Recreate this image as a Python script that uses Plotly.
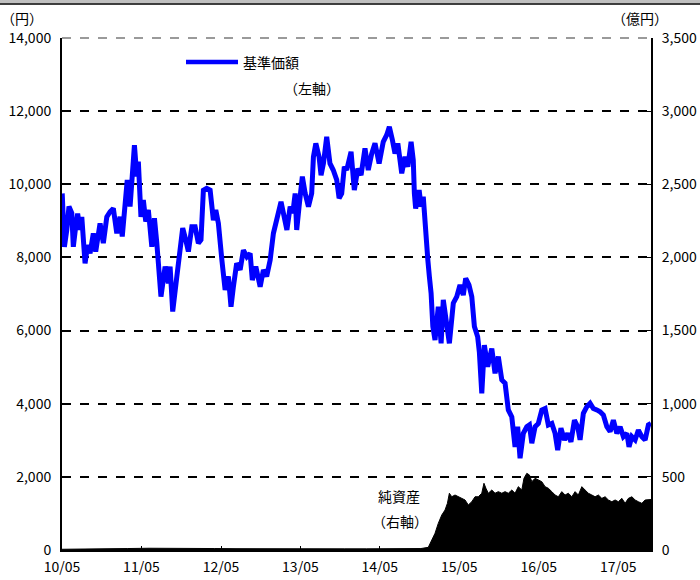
import pandas as pd
import plotly.graph_objects as go

# ---- data ----
start_date = "2010-05-01"

nav_days = [1, 11, 22, 32, 45, 52, 63, 72, 83, 91, 106, 118, 129, 144, 155, 175, 190, 206, 221, 236,
            252, 267, 277, 290, 300, 313, 323, 333, 344, 351, 363, 374, 385, 397, 413, 425, 436, 455,
            474, 489, 497, 509, 528, 543, 555, 569, 581, 597, 612, 627, 639, 650, 665, 681, 696, 707,
            719, 735, 750, 765, 777, 788, 803, 819, 834, 850, 865, 875, 891, 911, 926, 941, 957, 972,
            988, 1007, 1018, 1034, 1049, 1061, 1072, 1079, 1090, 1105, 1118, 1133, 1148, 1156, 1167,
            1182, 1191, 1202, 1217, 1232, 1247, 1263, 1274, 1286, 1298, 1309, 1329, 1344, 1360, 1375,
            1393, 1408, 1424, 1439, 1458, 1477, 1493, 1505, 1519, 1531, 1544, 1562, 1577, 1590, 1605,
            1615, 1620, 1626, 1642, 1651, 1661, 1672, 1682, 1689, 1697, 1705, 1715, 1730, 1743, 1753,
            1766, 1781, 1799, 1815, 1830, 1845, 1856, 1871, 1884, 1896, 1911, 1919, 1930, 1942, 1957,
            1976, 1991, 2006, 2022, 2037, 2052, 2068, 2083, 2095, 2106, 2121, 2137, 2149, 2160, 2175,
            2190, 2206, 2221, 2236, 2252, 2267, 2279, 2294, 2310, 2325, 2340, 2356, 2371, 2382, 2397,
            2413, 2428, 2443, 2459, 2474, 2489, 2505, 2520, 2535, 2551, 2566, 2581, 2597, 2607, 2620,
            2635, 2650, 2666, 2681, 2696, 2708]
nav_values = [9750, 8290, 8750, 9390, 9210, 8290, 8840, 9200, 8750, 9110, 7840, 8340, 8110, 8660, 8160,
              8930, 8390, 9110, 9250, 9340, 8660, 9110, 8570, 9480, 10120, 9390, 10390, 11070, 10210,
              10620, 9110, 9570, 8980, 9300, 8290, 9070, 8390, 6930, 7750, 7290, 7750, 6520, 7480, 8110,
              8800, 8480, 8160, 8840, 8840, 8390, 8480, 9840, 9890, 9840, 9020, 9300, 8930, 7930, 7110,
              7480, 6650, 7200, 7840, 7660, 8200, 8020, 8110, 7380, 7750, 7200, 7660, 7480, 7930, 8660,
              9110, 9520, 9210, 8750, 9390, 9210, 9750, 8750, 9390, 10210, 9750, 9390, 9750, 10750,
              11120, 10750, 10250, 10570, 11300, 10570, 10390, 10120, 9620, 9750, 10480, 10390, 10890,
              9840, 10430, 10250, 10980, 10390, 10840, 11120, 10570, 11160, 11350, 11570, 11210, 10840,
              11120, 10300, 10750, 10480, 11160, 10660, 9750, 9340, 9840, 9390, 9660, 8570, 7930, 7480,
              7020, 6110, 5740, 6650, 5650, 6840, 6200, 5650, 6750, 6930, 7250, 6970, 7430, 7250, 6930,
              6110, 5830, 5400, 4280, 5600, 5010, 5510, 4830, 5290, 4650, 4560, 3830, 3640, 2820, 3370,
              2510, 3190, 3370, 3420, 2920, 3370, 3460, 3830, 3870, 3420, 3460, 3190, 2730, 3330, 3010,
              3190, 2960, 3550, 3370, 3010, 3740, 3920, 4010, 3870, 3830, 3780, 3690, 3370, 3240, 3550,
              3190, 3370, 3100, 3190, 2820, 3100, 3010, 3280, 3100, 3010, 3420, 3460]

asset_days = [0, 100, 200, 300, 400, 500, 600, 700, 800, 900, 1000, 1100, 1200, 1300, 1400, 1500, 1600,
              1650, 1684, 1700, 1715, 1730, 1746, 1761, 1772, 1781, 1792, 1807, 1823, 1838, 1853, 1868,
              1884, 1899, 1914, 1930, 1940, 1949, 1960, 1976, 1991, 2006, 2022, 2037, 2052, 2068, 2083,
              2098, 2114, 2124, 2137, 2149, 2160, 2175, 2190, 2206, 2221, 2236, 2252, 2267, 2282, 2298,
              2313, 2328, 2344, 2359, 2374, 2390, 2405, 2420, 2436, 2451, 2466, 2482, 2497, 2512, 2528,
              2543, 2558, 2574, 2589, 2604, 2620, 2635, 2650, 2666, 2681, 2696, 2708]
asset_values = [5, 8, 12, 10, 12, 10, 9, 10, 9, 8, 8, 7, 7, 8, 8, 8, 9, 10, 18, 68, 114, 182, 239, 273,
                319, 388, 364, 376, 364, 353, 342, 308, 330, 364, 364, 388, 456, 422, 388, 410, 388, 399,
                388, 399, 388, 410, 388, 433, 410, 490, 524, 513, 467, 490, 479, 467, 433, 422, 399, 376,
                364, 399, 376, 388, 364, 399, 376, 433, 410, 388, 376, 364, 376, 353, 364, 342, 330, 342,
                330, 353, 319, 353, 364, 342, 330, 319, 342, 342, 345]

x_tick_dates = ["2010-05-01", "2011-05-01", "2012-05-01", "2013-05-01", "2014-05-01",
                "2015-05-01", "2016-05-01", "2017-05-01"]
x_tick_labels = ["10/05", "11/05", "12/05", "13/05", "14/05", "15/05", "16/05", "17/05"]
left_ticks = [0, 2000, 4000, 6000, 8000, 10000, 12000, 14000]
left_tick_labels = ["0", "2,000", "4,000", "6,000", "8,000", "10,000", "12,000", "14,000"]
right_ticks = [0, 500, 1000, 1500, 2000, 2500, 3000, 3500]
right_tick_labels = ["0", "500", "1,000", "1,500", "2,000", "2,500", "3,000", "3,500"]

nav_name = "基準価額"
asset_name = "純資産"

# ---- build ----
t0 = pd.Timestamp(start_date)
nav_x = t0 + pd.to_timedelta(nav_days, unit="D")
asset_x = t0 + pd.to_timedelta(asset_days, unit="D")
x_end = t0 + pd.to_timedelta(max(nav_days), unit="D")

FONT = "Noto Sans CJK JP"

fig = go.Figure()
fig.add_trace(go.Scatter(x=asset_x, y=asset_values, name=asset_name, yaxis="y2",
                         mode="lines", line=dict(color="black", width=1),
                         fill="tozeroy", fillcolor="black", showlegend=False))
fig.add_trace(go.Scatter(x=nav_x, y=nav_values, name=nav_name, yaxis="y",
                         mode="lines", line=dict(color="#0000FF", width=5),
                         showlegend=False))

def py(p):  # pixel row -> paper y
    return 1 + (38 - p) / 512.0

def px(p):  # pixel col -> paper x
    return (p - 62) / 589.0

shapes = [
    dict(type="rect", xref="paper", yref="paper", x0=px(-5), x1=px(705), y0=py(3.2), y1=py(-2),
         fillcolor="#c0c0c0", line=dict(width=0), layer="above"),
    dict(type="line", xref="paper", yref="paper", x0=px(-5), x1=px(705), y0=py(4), y1=py(4),
         line=dict(color="black", width=1.6), layer="above"),
    dict(type="line", xref="paper", yref="paper", x0=0, x1=1, y0=1, y1=1,
         line=dict(color="#9a9a9a", width=2, dash="dash"), layer="above"),
    # legend sample line
    dict(type="line", xref="paper", yref="paper", x0=px(186), x1=px(238), y0=py(62), y1=py(62),
         line=dict(color="#0000FF", width=4.5), layer="above"),
]

annotations = [
    dict(text=nav_name, x=px(241), y=py(62), xref="paper", yref="paper", xanchor="left",
         yanchor="middle", showarrow=False, font=dict(family=FONT, size=14, color="black")),
    dict(text="（左軸）", x=px(312), y=py(88), xref="paper", yref="paper", xanchor="center",
         yanchor="middle", showarrow=False, font=dict(family=FONT, size=14, color="black")),
    dict(text=asset_name, x=px(399), y=py(496), xref="paper", yref="paper", xanchor="center",
         yanchor="middle", showarrow=False, font=dict(family=FONT, size=14, color="black")),
    dict(text="（右軸）", x=px(400), y=py(521), xref="paper", yref="paper", xanchor="center",
         yanchor="middle", showarrow=False, font=dict(family=FONT, size=14, color="black")),
    dict(text="（円）", x=px(22), y=py(18), xref="paper", yref="paper", xanchor="center",
         yanchor="middle", showarrow=False, font=dict(family=FONT, size=14, color="black")),
    dict(text="（億円）", x=px(640), y=py(18), xref="paper", yref="paper", xanchor="center",
         yanchor="middle", showarrow=False, font=dict(family=FONT, size=14, color="black")),
]

fig.update_layout(
    width=700, height=580,
    margin=dict(l=62, r=49, t=38, b=30, pad=0),
    paper_bgcolor="white", plot_bgcolor="white",
    font=dict(family=FONT, size=14, color="black"),
    showlegend=False,
    shapes=shapes, annotations=annotations,
    xaxis=dict(range=[t0, x_end], tickvals=x_tick_dates, ticktext=x_tick_labels,
               showgrid=False, zeroline=False, showline=True, linecolor="black", linewidth=2,
               ticks="inside", ticklen=4, tickcolor="black", tickwidth=1,
               ticklabelstandoff=3, automargin=False,
               tickfont=dict(family=FONT, size=14)),
    yaxis=dict(range=[0, 14000], tickvals=left_ticks, ticktext=left_tick_labels,
               showgrid=True, gridcolor="black", gridwidth=2, griddash="dash",
               zeroline=False, showline=True, linecolor="black", linewidth=2,
               ticks="inside", ticklen=4, tickcolor="black", ticklabelstandoff=6,
               automargin=False, tickfont=dict(family=FONT, size=14)),
    yaxis2=dict(range=[0, 3500], tickvals=right_ticks, ticktext=right_tick_labels,
                overlaying="y", side="right", showgrid=False, zeroline=False,
                showline=True, linecolor="black", linewidth=2,
                ticks="inside", ticklen=4, tickcolor="black", ticklabelstandoff=6,
                automargin=False, tickfont=dict(family=FONT, size=14)),
)

fig.write_html(
    "out.html",
    config={"displayModeBar": False},
    post_script="document.body.style.margin='0px';"
                "document.documentElement.style.overflow='hidden';"
                "document.body.style.overflow='hidden';",
)
